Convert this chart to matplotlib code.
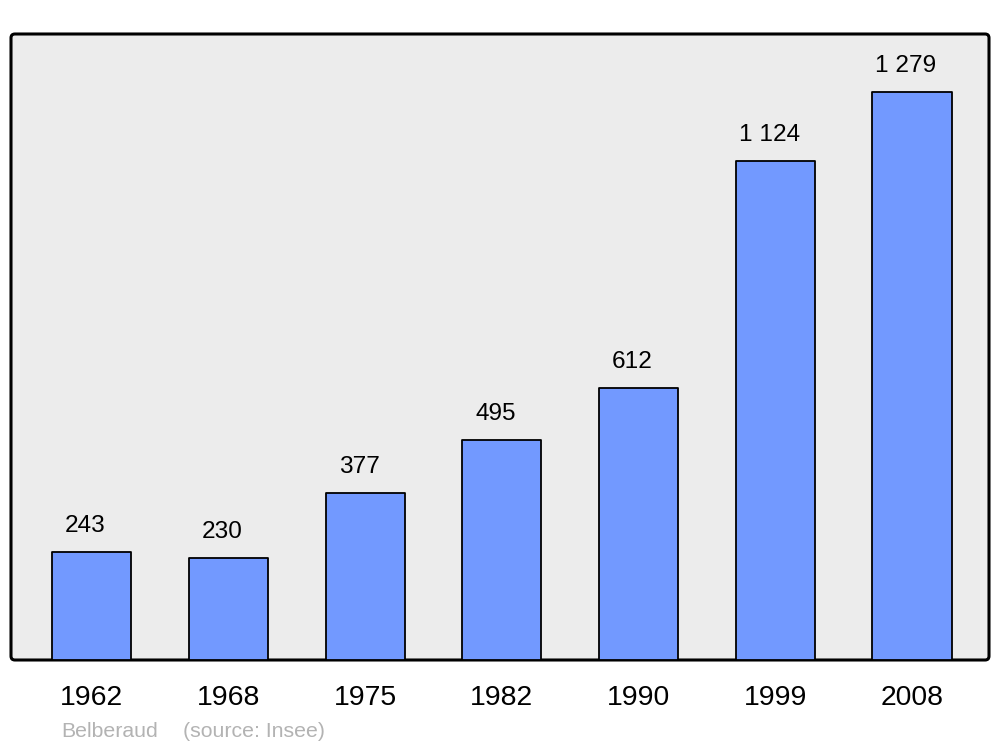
import matplotlib
matplotlib.use("Agg")
import matplotlib.pyplot as plt
from matplotlib.patches import FancyBboxPatch

years = ["1962", "1968", "1975", "1982", "1990", "1999", "2008"]
population = [243, 230, 377, 495, 612, 1124, 1279]
value_labels = ["243", "230", "377", "495", "612", "1 124", "1 279"]
place = "Belberaud"
source = "(source: Insee)"

plt.rcParams['font.family'] = ['Liberation Sans', 'DejaVu Sans']
fig = plt.figure(figsize=(10, 7.47), dpi=100)
ax = fig.add_axes([0.011, 87/747, 0.978, 626/747])
ax.patch.set_visible(False)
for s in ax.spines.values():
    s.set_visible(False)

frame = FancyBboxPatch((0, 0), 1, 1, boxstyle="round,pad=0,rounding_size=0.004",
                       transform=ax.transAxes, facecolor="#ececec", edgecolor="black",
                       linewidth=2.2, clip_on=False, zorder=0, mutation_aspect=978/626)
ax.add_patch(frame)

x = list(range(len(years)))
bars = ax.bar(x, population, width=0.578, color="#7299ff", edgecolor="black",
              linewidth=1.3, zorder=2)
for b in bars:
    b.set_joinstyle('round')

px = 1 / 1.389
for xi, v, lab in zip(x, population, value_labels):
    ax.annotate(lab, xy=(xi, v), xytext=(-6 * px, 26 * px),
                textcoords='offset points', ha='center', va='center',
                fontsize=17.6, color='black', zorder=3)

ax.set_xlim(-0.589, 6.563)
ax.set_ylim(0, 1409.6)
ax.set_yticks([])
ax.set_xticks(x)
ax.set_xticklabels(years, fontsize=20.4)
ax.tick_params(axis='x', length=0, pad=45 * px)
for t in ax.get_xticklabels():
    t.set_va('baseline')

fig.text(61/1000, 1 - 737/747, place, fontsize=15.3, color="#b3b3b3", va='baseline')
fig.text(183/1000, 1 - 737/747, source, fontsize=15.3, color="#b3b3b3", va='baseline')

fig.savefig("out.png", dpi=100)
